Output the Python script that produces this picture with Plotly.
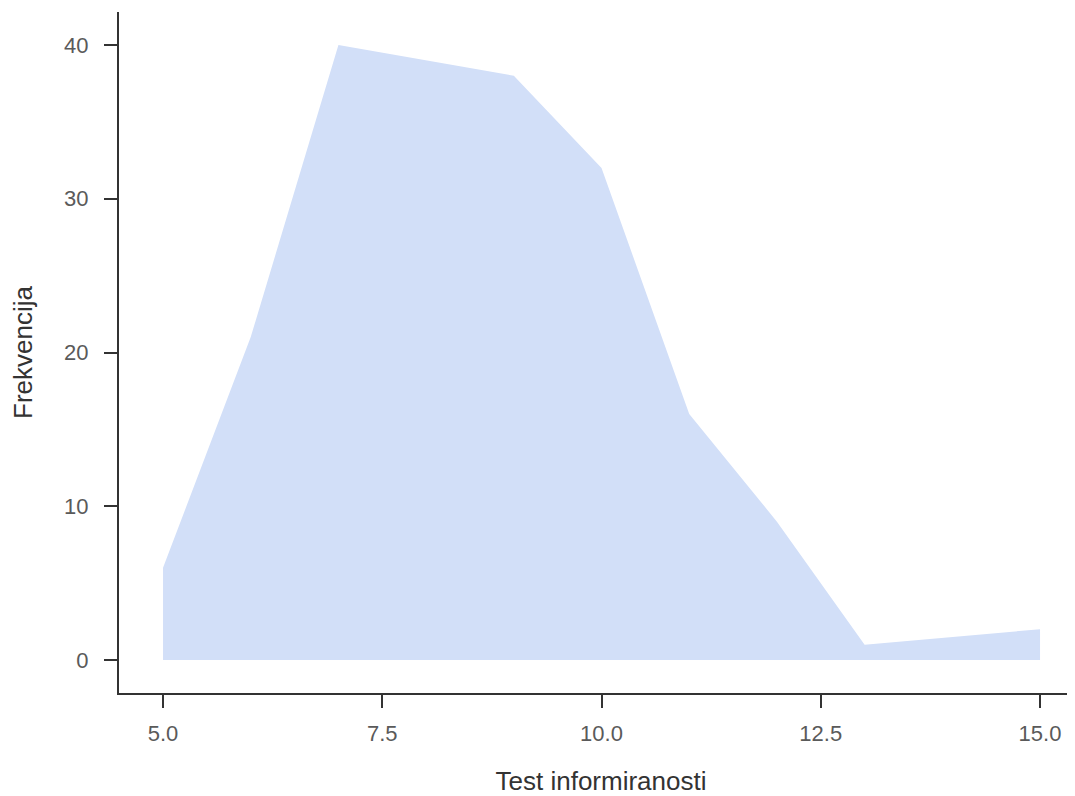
import plotly.graph_objects as go

test_scores = [5, 6, 7, 9, 10, 11, 12, 13, 15]
frequencies = [6, 21, 40, 38, 32, 16, 9, 1, 2]
x_tick_values = [5.0, 7.5, 10.0, 12.5, 15.0]
x_tick_labels = ["5.0", "7.5", "10.0", "12.5", "15.0"]
y_tick_values = [0, 10, 20, 30, 40]
y_tick_labels = ["0", "10", "20", "30", "40"]

FONT = "Liberation Sans, Arial, sans-serif"

fig = go.Figure()
fig.add_trace(go.Scatter(
    x=test_scores, y=frequencies,
    mode="lines", fill="tozeroy",
    line=dict(width=0, color="#D2DFF8"),
    fillcolor="#D2DFF8",
    hoverinfo="x+y",
))

axis_common = dict(
    showgrid=False, zeroline=False, showline=True,
    linecolor="#333333", linewidth=2,
    ticks="outside", ticklen=13, tickwidth=2, tickcolor="#333333",
    tickfont=dict(family=FONT, size=22, color="#5a5a5a"),
    automargin=False,
)

fig.update_layout(
    width=1075, height=788,
    margin=dict(l=111, r=0, t=4, b=103),
    paper_bgcolor="white", plot_bgcolor="white",
    showlegend=False,
    xaxis=dict(
        range=[4.498, 15.49],
        tickvals=x_tick_values, ticktext=x_tick_labels,
        ticklabelstandoff=7,
        title=dict(text="Test informiranosti", standoff=30,
                   font=dict(family=FONT, size=26, color="#333333")),
        **axis_common,
    ),
    yaxis=dict(
        range=[-2.146, 42.146],
        tickvals=y_tick_values, ticktext=y_tick_labels,
        ticklabelstandoff=11,
        title=dict(text="Frekvencija", standoff=24,
                   font=dict(family=FONT, size=26, color="#333333")),
        **axis_common,
    ),
)

fig.write_html("out.html")
